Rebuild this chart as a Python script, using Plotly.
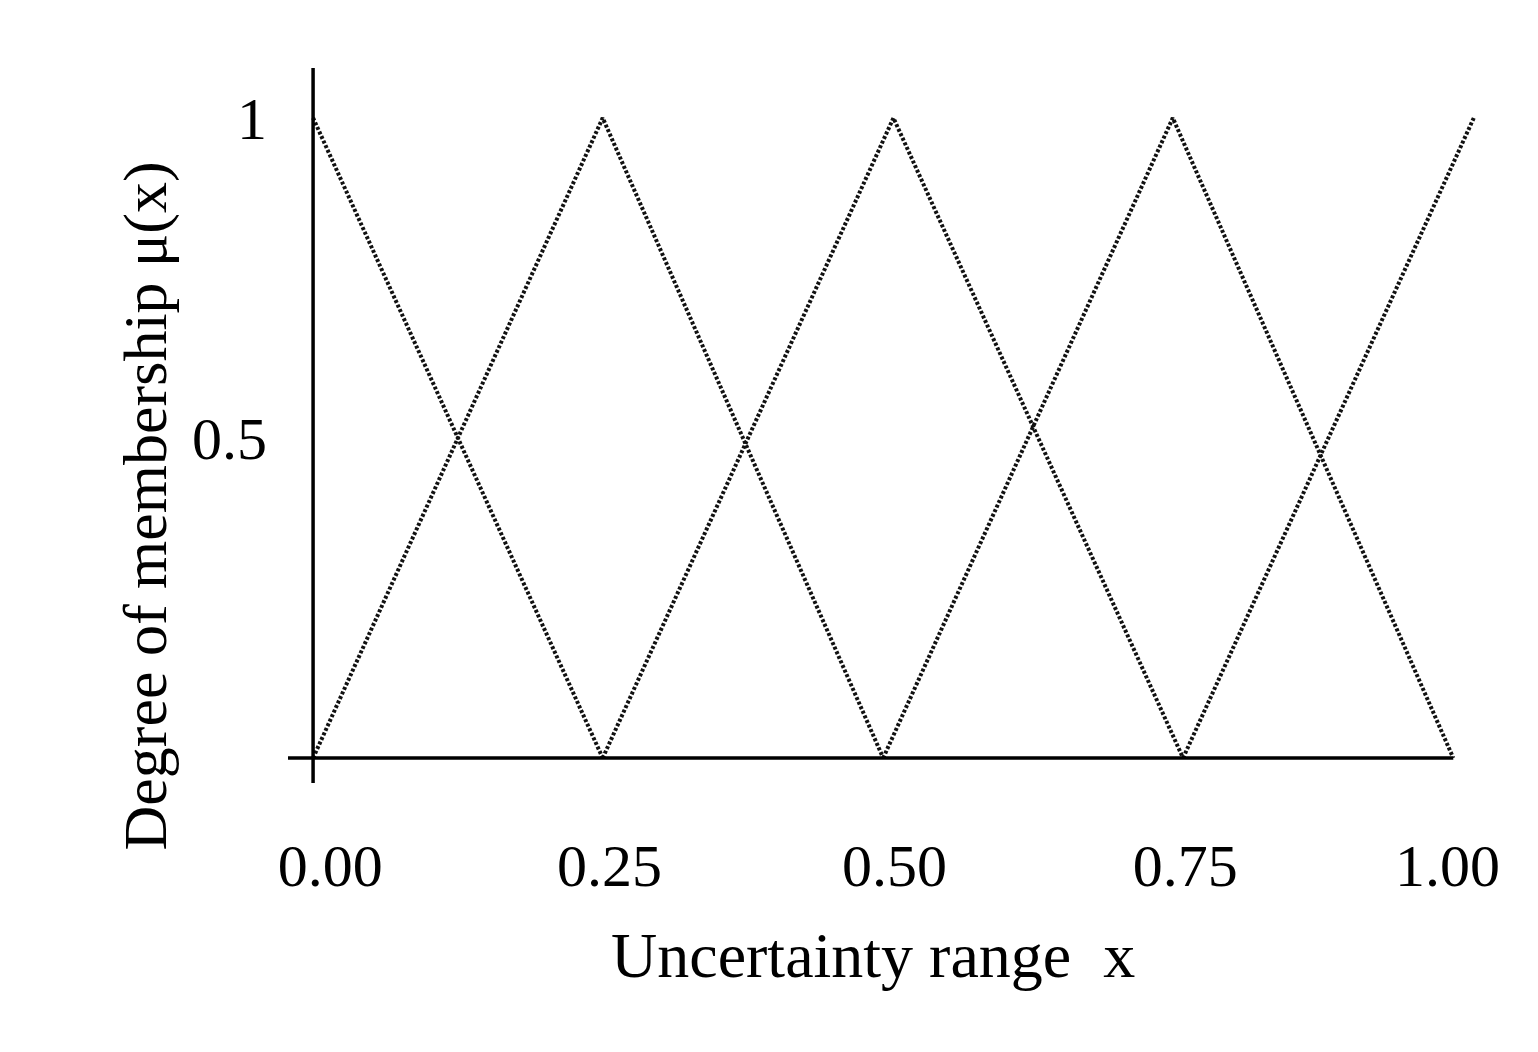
import plotly.graph_objects as go

# membership function vertices (x, y)
series_x = [
    [0.0, 0.254],
    [0.0, 0.254, 0.5],
    [0.254, 0.509, 0.763],
    [0.5, 0.754, 1.0],
    [0.763, 1.018],
]
series_y = [
    [1, 0],
    [0, 1, 0],
    [0, 1, 0],
    [0, 1, 0],
    [0, 1],
]
x_ticks = [0.015, 0.26, 0.51, 0.765, 0.995]
x_ticktext = ["0.00", "0.25", "0.50", "0.75", "1.00"]
y_ticks = [0.5, 1]
y_ticktext = ["0.5", "1"]

fig = go.Figure()
for xs, ys in zip(series_x, series_y):
    fig.add_trace(go.Scatter(x=xs, y=ys, mode="lines",
                             line=dict(color="#111", width=4, dash="3px,2px"),
                             showlegend=False))
fig.add_shape(type="line", x0=0, x1=0, y0=-0.039, y1=1.078, line=dict(color="black", width=3.5))
fig.add_shape(type="line", x0=-0.022, x1=1.0, y0=0, y1=0, line=dict(color="black", width=3.5))

font = dict(family="Liberation Serif", color="black")
fig.add_annotation(text="Uncertainty range  x", xref="paper", yref="paper",
                   x=(865 - 280) / 1220, y=-(985 - 775) / 715, showarrow=False,
                   font=dict(size=64, **font))
fig.add_annotation(text="Degree of membership μ(x)", xref="paper", yref="paper",
                   x=-(280 - 100) / 1220, y=(775 - 498) / 715, showarrow=False, textangle=-90,
                   font=dict(size=62, **font))
fig.update_layout(
    width=1538, height=1052, plot_bgcolor="white", paper_bgcolor="white",
    margin=dict(l=280, r=38, t=60, b=277),
    xaxis=dict(range=[-0.022, 1.048], showgrid=False, zeroline=False, showline=False,
               tickvals=x_ticks, ticktext=x_ticktext, ticks="outside", ticklen=30,
               tickcolor="rgba(0,0,0,0)", tickfont=dict(size=60, **font)),
    yaxis=dict(range=[-0.039, 1.078], showgrid=False, zeroline=False, showline=False,
               tickvals=y_ticks, ticktext=y_ticktext, ticks="outside", ticklen=8,
               tickcolor="rgba(0,0,0,0)", tickfont=dict(size=60, **font)),
)
fig.write_html("out.html")
